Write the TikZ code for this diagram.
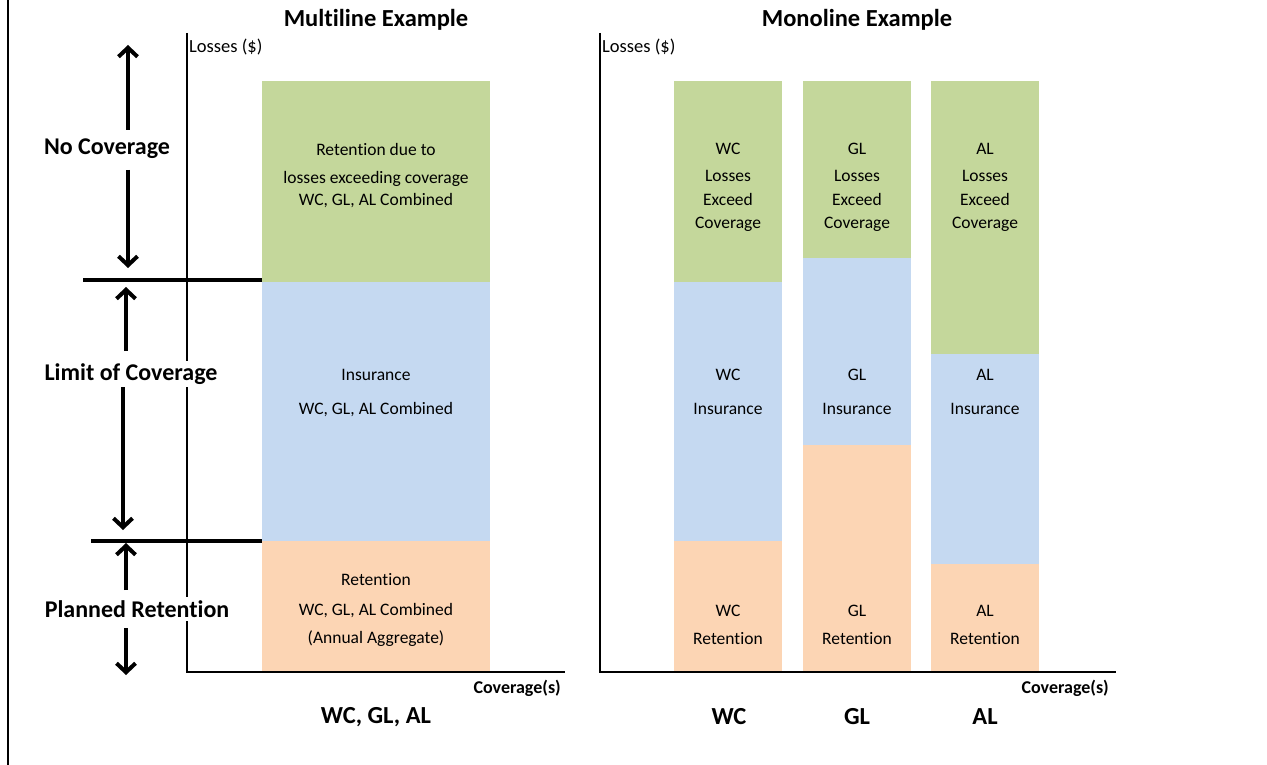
\documentclass[tikz,border=0pt]{standalone}
\usepackage{fontspec}
\setmainfont{Carlito}[Ligatures=NoCommon]
\usetikzlibrary{arrows.meta}
\definecolor{cgreen}{HTML}{C4D79B}
\definecolor{cblue}{HTML}{C5D9F1}
\definecolor{corange}{HTML}{FCD5B4}
\tikzset{
  bodytext/.style={font=\fontsize{17.5}{21}\selectfont, inner sep=0pt, anchor=base},
  sidelabel/.style={font=\fontsize{24}{28}\selectfont\bfseries, fill=white, inner sep=3pt},
  bigtitle/.style={font=\fontsize{24.5}{28}\selectfont\bfseries, inner sep=0pt},
  axlabel/.style={font=\fontsize{18.5}{22}\selectfont, inner sep=0pt},
  covlabel/.style={font=\fontsize{18}{21}\selectfont\bfseries, inner sep=0pt, anchor=east},
  axisline/.style={line width=2.2pt},
  levelline/.style={line width=4pt},
  bigarrow/.style={line width=4pt, -{Straight Barb[length=9pt,width=19pt]}},
}
\begin{document}
\begin{tikzpicture}[x=1pt,y=-1pt]
\useasboundingbox (0,0) rectangle (1267,765);
% left border
\draw[line width=2pt] (8,0) -- (8,765);

% ---- Multiline bar
\fill[cgreen] (262,81) rectangle (490,282);
\fill[cblue] (262,282) rectangle (490,541);
\fill[corange] (262,541) rectangle (490,672);

% ---- Monoline bars
\fill[cgreen] (674,81) rectangle (782,282);
\fill[cblue] (674,282) rectangle (782,541);
\fill[corange] (674,541) rectangle (782,672);

\fill[cgreen] (803,81) rectangle (911,258);
\fill[cblue] (803,258) rectangle (911,445);
\fill[corange] (803,445) rectangle (911,672);

\fill[cgreen] (931,81) rectangle (1039,354);
\fill[cblue] (931,354) rectangle (1039,564);
\fill[corange] (931,564) rectangle (1039,672);

% level lines
\draw[levelline] (83,280) -- (262,280);
\draw[levelline] (91,541) -- (262,541);

% axes
\draw[axisline] (187,33) -- (187,672) -- (565,672);
\draw[axisline] (600,33) -- (600,672) -- (1116,672);

\node[axlabel, anchor=west] (yl1) at (189,47) {Losses (\$)};
\node[axlabel, anchor=west] (yl2) at (602,47) {Losses (\$)};
\node[covlabel] (xl1) at (561,688) {Coverage(s)};
\node[covlabel] (xl2) at (1109,688) {Coverage(s)};

% titles
\node[bigtitle] (t1) at (376,20) {Multiline Example};
\node[bigtitle] (t2) at (857,20) {Monoline Example};

% bottom labels
\node[bigtitle] (b1) at (376,717) {WC, GL, AL};
\node[bigtitle] (b2) at (729,717) {WC};
\node[bigtitle] (b3) at (857,717) {GL};
\node[bigtitle] (b4) at (985,717) {AL};

% side labels
\node[sidelabel] (nc) at (107,149) {No Coverage};
\node[sidelabel] (lc) at (131,374) {Limit of Coverage};
\node[sidelabel] (pr) at (137,609) {Planned Retention};

% arrows
\coordinate (a1s) at (128,130); \coordinate (a1e) at (128,45);
\coordinate (a2s) at (128,170); \coordinate (a2e) at (128,268);
\coordinate (a3s) at (126,351); \coordinate (a3e) at (126,287);
\coordinate (a4s) at (123,387); \coordinate (a4e) at (123,530);
\coordinate (a5s) at (126,590); \coordinate (a5e) at (126,543);
\coordinate (a6s) at (126,628); \coordinate (a6e) at (126,675);
\draw[bigarrow] (a1s) -- (a1e);
\draw[bigarrow] (a2s) -- (a2e);
\draw[bigarrow] (a3s) -- (a3e);
\draw[bigarrow] (a4s) -- (a4e);
\draw[bigarrow] (a5s) -- (a5e);
\draw[bigarrow] (a6s) -- (a6e);

% ---- Multiline texts
\node[bodytext] (mg1) at (376,156) {Retention due to};
\node[bodytext] (mg2) at (376,183) {losses exceeding coverage};
\node[bodytext] (mg3) at (376,205) {WC, GL, AL Combined};
\node[bodytext] (mb1) at (376,380) {Insurance};
\node[bodytext] (mb2) at (376,414) {WC, GL, AL Combined};
\node[bodytext] (mo1) at (376,585) {Retention};
\node[bodytext] (mo2) at (376,615) {WC, GL, AL Combined};
\node[bodytext] (mo3) at (376,643) {(Annual Aggregate)};

% ---- Monoline texts
\node[bodytext] (wg1) at (728,155) {WC};
\node[bodytext] (wg2) at (728,182) {Losses};
\node[bodytext] (wg3) at (728,205) {Exceed};
\node[bodytext] (wg4) at (728,229) {Coverage};
\node[bodytext] (wb1) at (728,380) {WC};
\node[bodytext] (wb2) at (728,414) {Insurance};
\node[bodytext] (wo1) at (728,616) {WC};
\node[bodytext] (wo2) at (728,644) {Retention};

\node[bodytext] (gg1) at (857,155) {GL};
\node[bodytext] (gg2) at (857,182) {Losses};
\node[bodytext] (gg3) at (857,205) {Exceed};
\node[bodytext] (gg4) at (857,229) {Coverage};
\node[bodytext] (gb1) at (857,380) {GL};
\node[bodytext] (gb2) at (857,414) {Insurance};
\node[bodytext] (go1) at (857,616) {GL};
\node[bodytext] (go2) at (857,644) {Retention};

\node[bodytext] (ag1) at (985,155) {AL};
\node[bodytext] (ag2) at (985,182) {Losses};
\node[bodytext] (ag3) at (985,205) {Exceed};
\node[bodytext] (ag4) at (985,229) {Coverage};
\node[bodytext] (ab1) at (985,380) {AL};
\node[bodytext] (ab2) at (985,414) {Insurance};
\node[bodytext] (ao1) at (985,616) {AL};
\node[bodytext] (ao2) at (985,644) {Retention};
\end{tikzpicture}
\end{document}
